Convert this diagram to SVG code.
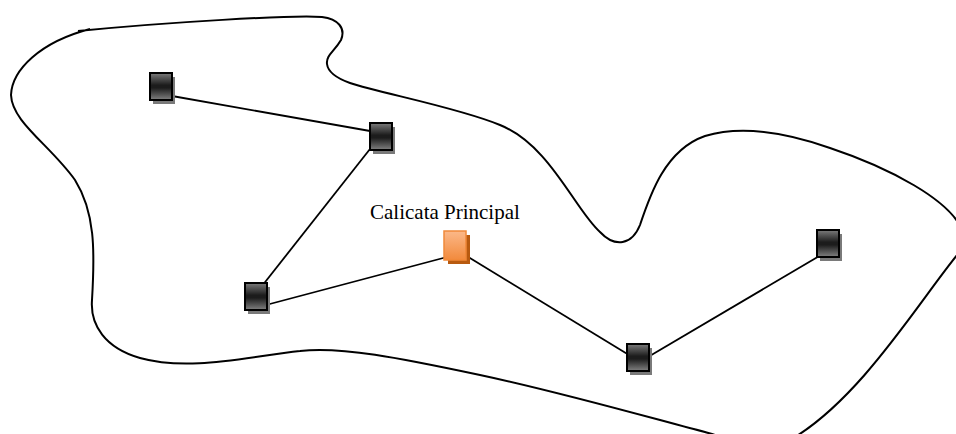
<svg xmlns="http://www.w3.org/2000/svg" width="956" height="434" viewBox="0 0 956 434">
  <style>
    .outline { fill: none; stroke: #000; stroke-width: 2; stroke-linejoin: round; }
    .link { stroke: #000; stroke-width: 1.8; fill: none; }
    .shadow-dark { fill: #7a7a7a; }
    .shadow-orange { fill: #b85a10; }
    .box-dark { fill: url(#gDark); stroke: #000; stroke-width: 2; }
    .box-orange { fill: url(#gOrange); stroke: #f0893a; stroke-width: 1.5; }
    .label { font-family: "Liberation Serif", "Times New Roman", serif; font-size: 21px; fill: #000; }
  </style>
  <defs>
    <linearGradient id="gDark" x1="0" y1="0" x2="0" y2="1">
      <stop offset="0" stop-color="#7c7c7c"/>
      <stop offset="0.45" stop-color="#1c1c1c"/>
      <stop offset="0.55" stop-color="#1c1c1c"/>
      <stop offset="1" stop-color="#828282"/>
    </linearGradient>
    <linearGradient id="gOrange" x1="0" y1="0" x2="0" y2="1">
      <stop offset="0" stop-color="#fbb889"/>
      <stop offset="1" stop-color="#f28a3c"/>
    </linearGradient>
  </defs>

  <!-- area boundary -->
  <g id="boundary">
    <path class="outline" d="M 78,31
      C 170,22 290,15 322,17
      C 338,19 346,28 341,40
      C 334,52 326,55 327,64
      C 328,72 336,78 350,83
      C 380,93 460,108 500,125
      C 550,145 575,210 600,232
      C 615,248 632,245 640,225
      C 650,195 665,150 705,136
      C 745,124 790,134 830,148
      C 890,168 950,200 962,230
      C 972,242 968,246 958,254
      C 920,300 860,400 790,440
      C 760,450 730,440 712,434
      C 640,415 560,392 480,375
      C 400,358 340,346 300,351
      C 250,356 190,372 140,358
      C 105,348 90,325 92,300
      C 95,250 95,212 75,180
      C 50,145 12,122 11,95
      C 12,70 40,42 90,29"/>
  </g>

  <!-- connectors -->
  <g id="connectors">
    <line class="link" x1="172" y1="96" x2="370" y2="131"/>
    <line class="link" x1="370" y1="149" x2="262" y2="286"/>
    <line class="link" x1="266" y1="305" x2="447" y2="257"/>
    <line class="link" x1="465" y1="255" x2="629" y2="355"/>
    <line class="link" x1="648" y1="357" x2="821" y2="255"/>
  </g>

  <!-- survey points -->
  <g id="node1">
    <rect class="shadow-dark" x="153" y="77" width="22" height="27"/>
    <rect class="box-dark" x="150" y="73" width="22" height="27"/>
  </g>
  <g id="node2">
    <rect class="shadow-dark" x="373" y="127" width="22" height="27"/>
    <rect class="box-dark" x="370" y="123" width="22" height="27"/>
  </g>
  <g id="node3">
    <rect class="shadow-dark" x="248" y="287" width="22" height="27"/>
    <rect class="box-dark" x="245" y="283" width="22" height="27"/>
  </g>
  <g id="principal">
    <rect class="shadow-orange" x="448" y="235" width="22" height="29"/>
    <rect class="box-orange" x="444" y="231" width="22" height="29"/>
    <text class="label" x="370" y="219">Calicata Principal</text>
  </g>
  <g id="node5">
    <rect class="shadow-dark" x="630" y="348" width="22" height="27"/>
    <rect class="box-dark" x="627" y="344" width="22" height="27"/>
  </g>
  <g id="node6">
    <rect class="shadow-dark" x="820" y="234" width="22" height="27"/>
    <rect class="box-dark" x="817" y="230" width="22" height="27"/>
  </g>
</svg>
